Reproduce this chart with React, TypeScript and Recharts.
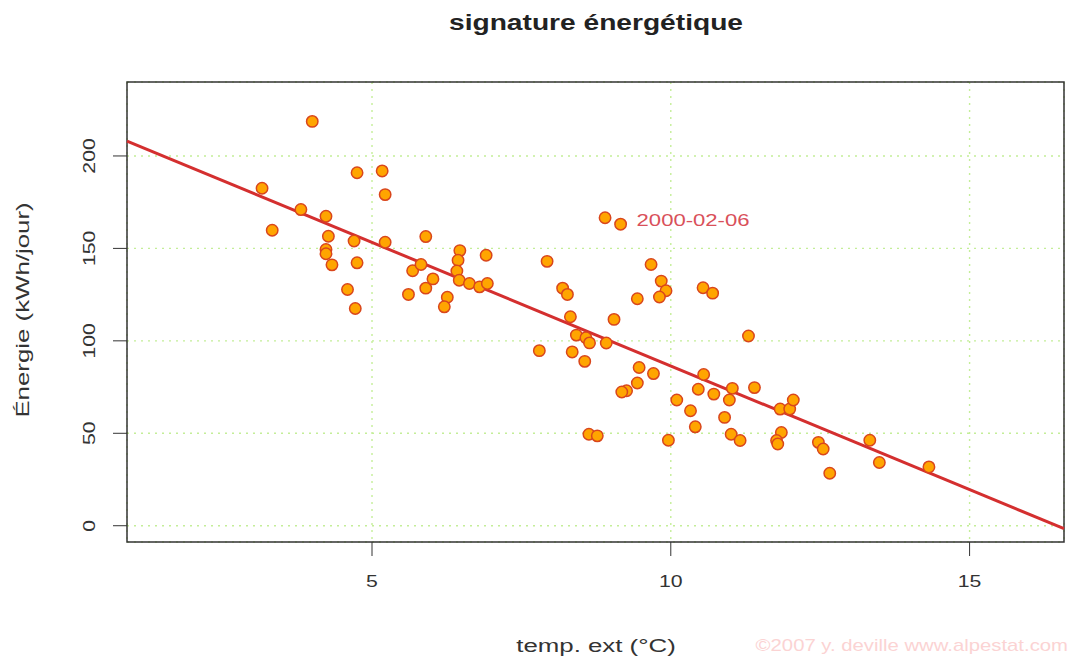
import {
  ScatterChart,
  Scatter,
  XAxis,
  YAxis,
  CartesianGrid,
  ReferenceLine,
  ReferenceArea,
  ReferenceDot,
} from 'recharts';

// daily outdoor temperature (°C) and energy use (kWh/day)
const tempExt = [
  3.16, 3.33, 3.81, 4.0, 4.23, 4.27, 4.23, 4.23, 4.33, 4.59, 4.72, 4.7, 4.75, 4.75, 5.17, 5.22,
  5.22, 5.68, 5.82, 5.9, 5.9, 6.02, 5.61, 6.26, 6.21, 6.47, 6.44, 6.42, 6.46, 6.63, 6.8, 6.93,
  6.91, 7.93, 8.19, 8.27, 8.32, 8.42, 8.58, 8.64, 8.92, 9.05, 7.8, 8.35, 8.56, 8.63, 8.77, 8.9,
  9.16, 9.67, 9.84, 9.92, 9.81, 9.44, 9.47, 9.71, 9.44, 9.26, 9.18, 10.1, 10.33, 10.41, 9.96,
  10.54, 10.7, 11.3, 10.55, 10.46, 10.72, 11.03, 10.98, 11.4, 10.9, 11.01, 11.16, 11.83, 11.99,
  12.05, 11.85, 11.77, 11.79, 12.47, 12.55, 12.66, 13.33, 13.49, 14.32,
];
const energy = [
  182.5, 159.8, 171.0, 218.7, 167.4, 156.6, 149.4, 147.1, 141.1, 127.8, 117.5, 154.0, 142.2,
  190.9, 191.9, 179.1, 153.3, 137.9, 141.3, 156.4, 128.5, 133.5, 125.1, 123.6, 118.4, 148.8,
  143.6, 137.8, 132.8, 131.0, 129.2, 131.0, 146.3, 143.0, 128.5, 125.1, 113.0, 103.1, 101.7,
  98.9, 98.8, 111.6, 94.7, 94.0, 88.9, 49.5, 48.6, 166.6, 163.1, 141.3, 132.3, 127.1, 123.7,
  122.8, 85.6, 82.3, 77.2, 73.0, 72.3, 68.0, 62.2, 53.5, 46.2, 128.7, 125.8, 102.6, 81.8, 73.8,
  71.2, 74.3, 68.0, 74.7, 58.6, 49.5, 46.1, 63.1, 63.1, 68.0, 50.4, 46.1, 44.2, 45.1, 41.5,
  28.4, 46.2, 34.2, 31.8,
];

const xTicks = [5, 10, 15];
const yTicks = [0, 50, 100, 150, 200];

// fitted line: energy = fitIntercept + fitSlope * temp
const fitIntercept = 220.1;
const fitSlope = -13.37;

const labelledIndex = 48;
const labelledDate = '2000-02-06';

const xDomain: [number, number] = [0.9, 16.58];
const yDomain: [number, number] = [-8.8, 240];

const points = tempExt.map((t, i) => ({ x: t, y: energy[i] }));

const FONT = '"Liberation Sans", Arial, Helvetica, sans-serif';
const INK = '#333';

// the source image is a widened R png, so text gets stretched along its baseline
function WideText({ x, y, rotate = 0, sx = 1.28, anchor = 'middle', children, ...rest }: any) {
  return (
    <text
      transform={`translate(${x},${y}) rotate(${rotate}) scale(${sx},1)`}
      textAnchor={anchor}
      fontFamily={FONT}
      {...rest}
    >
      {children}
    </text>
  );
}

function XTick({ x, payload }: any) {
  return (
    <WideText x={x} y={587} sx={1.25} fontSize={17} fill={INK}>
      {payload.value}
    </WideText>
  );
}

function YTick({ y, payload }: any) {
  return (
    <WideText x={95} y={y} rotate={-90} sx={1.25} fontSize={17} fill={INK}>
      {payload.value}
    </WideText>
  );
}

function Dot(props: any) {
  return <circle cx={props.cx} cy={props.cy} r={5.7} fill="#ffa500" stroke="#d9461c" strokeWidth={1.5} />;
}

function DateLabel({ viewBox }: any) {
  return (
    <WideText x={viewBox.x + 16} y={viewBox.y + 2} anchor="start" sx={1.38} fontSize={16} fill="#d9505a">
      {labelledDate}
    </WideText>
  );
}

export default function App() {
  const lx = tempExt[labelledIndex];
  const ly = energy[labelledIndex];

  return (
    <div style={{ position: 'absolute', left: 0, top: 0, width: 1073, height: 659, background: '#fff' }}>
      <ScatterChart width={1073} height={659} margin={{ top: 82, right: 9, bottom: 0, left: 0 }}>
        <CartesianGrid stroke="#c4ee98" strokeDasharray="2 5" strokeWidth={1.4} />
        <XAxis
          type="number"
          dataKey="x"
          domain={xDomain}
          ticks={xTicks}
          allowDataOverflow
          height={117}
          axisLine={false}
          tickSize={14}
          tickLine={{ stroke: INK }}
          tick={<XTick />}
        />
        <YAxis
          type="number"
          dataKey="y"
          domain={yDomain}
          ticks={yTicks}
          allowDataOverflow
          width={127}
          axisLine={false}
          tickSize={14}
          tickLine={{ stroke: INK }}
          tick={<YTick />}
        />
        <Scatter data={points} shape={<Dot />} isAnimationActive={false} />
        <ReferenceLine
          segment={[
            { x: xDomain[0], y: fitIntercept + fitSlope * xDomain[0] },
            { x: xDomain[1], y: fitIntercept + fitSlope * xDomain[1] },
          ]}
          stroke="#d42f2f"
          strokeWidth={3}
        />
        <ReferenceDot x={lx} y={ly} r={0} label={<DateLabel />} />
        <ReferenceArea
          x1={xDomain[0]}
          x2={xDomain[1]}
          y1={yDomain[0]}
          y2={yDomain[1]}
          fill="none"
          stroke={INK}
          strokeWidth={1.5}
        />
      </ScatterChart>
      <svg
        width={1073}
        height={659}
        style={{ position: 'absolute', left: 0, top: 0, pointerEvents: 'none' }}
      >
        <WideText x={596} y={30} fontSize={22} fontWeight="bold" fill="#222">
          signature énergétique
        </WideText>
        <WideText x={596} y={652} sx={1.36} fontSize={19} fill={INK}>
          temp. ext (°C)
        </WideText>
        <WideText x={29} y={310} rotate={-90} sx={1.36} fontSize={19} fill={INK}>
          Énergie (kWh/jour)
        </WideText>
        <WideText x={1068} y={651} anchor="end" sx={1.27} fontSize={16} fill="#fbd3d3">
          ©2007 y. deville www.alpestat.com
        </WideText>
      </svg>
    </div>
  );
}
